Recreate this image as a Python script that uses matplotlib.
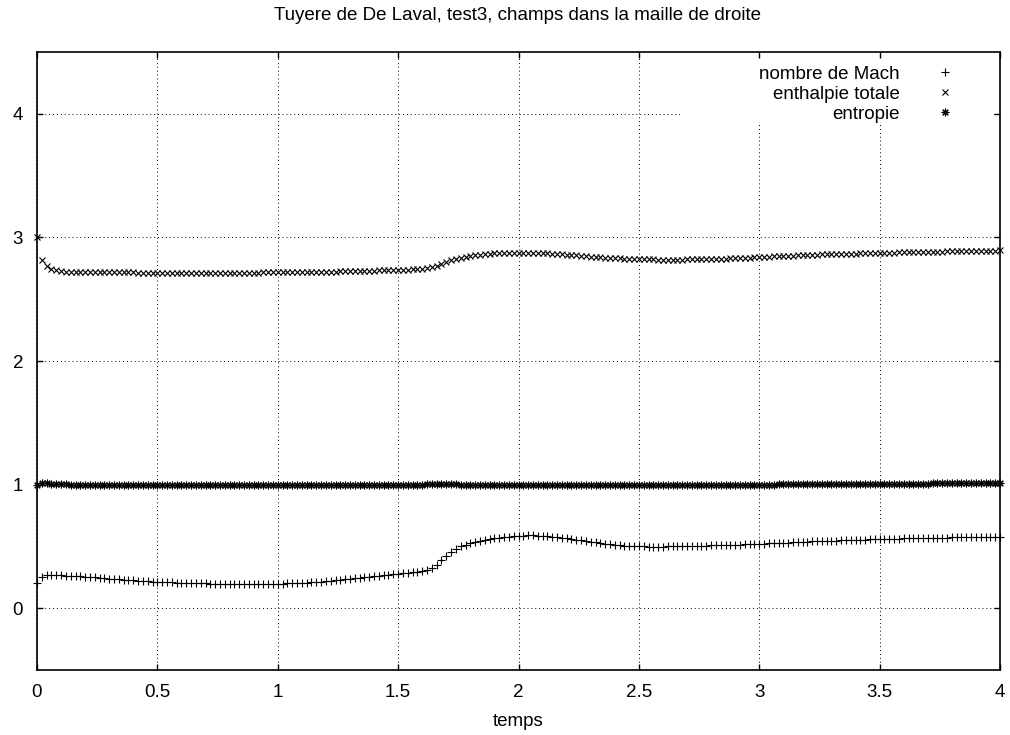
import numpy as np
import matplotlib
matplotlib.use("Agg")
import matplotlib.pyplot as plt
from matplotlib.patches import Rectangle

plt.rcParams["font.family"] = ["Liberation Sans", "DejaVu Sans"]

# time samples, dt = 0.02
temps = np.round(np.arange(201) * 0.02, 2)

mach = [
    0.200, 0.255, 0.265, 0.268, 0.268, 0.266, 0.264, 0.262, 0.260, 0.258,
    0.255, 0.252, 0.249, 0.246, 0.243, 0.240, 0.237, 0.234, 0.231, 0.228,
    0.225, 0.222, 0.220, 0.217, 0.215, 0.213, 0.211, 0.209, 0.208, 0.206,
    0.205, 0.204, 0.203, 0.202, 0.201, 0.200, 0.199, 0.199, 0.198, 0.198,
    0.197, 0.197, 0.196, 0.196, 0.196, 0.196, 0.196, 0.197, 0.197, 0.198,
    0.198, 0.199, 0.200, 0.202, 0.203, 0.205, 0.207, 0.210, 0.212, 0.215,
    0.219, 0.223, 0.227, 0.231, 0.235, 0.239, 0.243, 0.247, 0.251, 0.255,
    0.259, 0.263, 0.267, 0.271, 0.275, 0.279, 0.283, 0.287, 0.291, 0.296,
    0.302, 0.311, 0.326, 0.352, 0.388, 0.425, 0.456, 0.481, 0.500, 0.515,
    0.527, 0.537, 0.546, 0.553, 0.560, 0.566, 0.571, 0.576, 0.580, 0.583,
    0.586, 0.588, 0.589, 0.589, 0.588, 0.586, 0.583, 0.579, 0.575, 0.570,
    0.565, 0.560, 0.554, 0.548, 0.543, 0.537, 0.532, 0.527, 0.522, 0.518,
    0.514, 0.510, 0.507, 0.505, 0.503, 0.501, 0.500, 0.499, 0.499, 0.499,
    0.499, 0.500, 0.500, 0.501, 0.502, 0.503, 0.504, 0.505, 0.506, 0.507,
    0.508, 0.509, 0.510, 0.511, 0.513, 0.514, 0.515, 0.517, 0.518, 0.520,
    0.521, 0.523, 0.525, 0.526, 0.528, 0.530, 0.531, 0.533, 0.535, 0.536,
    0.538, 0.540, 0.541, 0.543, 0.544, 0.546, 0.547, 0.549, 0.550, 0.551,
    0.553, 0.554, 0.555, 0.556, 0.558, 0.559, 0.560, 0.561, 0.562, 0.563,
    0.564, 0.565, 0.566, 0.567, 0.568, 0.569, 0.570, 0.571, 0.571, 0.572,
    0.573, 0.574, 0.574, 0.575, 0.576, 0.576, 0.577, 0.577, 0.578, 0.578,
    0.579,
]

enthalpie = [
    3.000, 2.815, 2.770, 2.745, 2.733, 2.727, 2.724, 2.722, 2.721, 2.720,
    2.720, 2.719, 2.719, 2.718, 2.718, 2.718, 2.717, 2.717, 2.717, 2.717,
    2.717, 2.716, 2.716, 2.716, 2.716, 2.716, 2.716, 2.716, 2.716, 2.716,
    2.716, 2.716, 2.716, 2.716, 2.716, 2.716, 2.716, 2.716, 2.716, 2.716,
    2.716, 2.716, 2.716, 2.716, 2.716, 2.716, 2.716, 2.717, 2.717, 2.717,
    2.717, 2.718, 2.718, 2.719, 2.719, 2.720, 2.720, 2.721, 2.722, 2.722,
    2.723, 2.724, 2.724, 2.725, 2.726, 2.727, 2.728, 2.729, 2.730, 2.731,
    2.732, 2.733, 2.734, 2.735, 2.736, 2.737, 2.738, 2.740, 2.741, 2.743,
    2.746, 2.751, 2.759, 2.771, 2.786, 2.801, 2.815, 2.827, 2.837, 2.845,
    2.851, 2.856, 2.861, 2.864, 2.867, 2.870, 2.872, 2.874, 2.875, 2.876,
    2.877, 2.877, 2.876, 2.876, 2.875, 2.873, 2.871, 2.869, 2.866, 2.863,
    2.860, 2.857, 2.854, 2.851, 2.848, 2.845, 2.842, 2.839, 2.837, 2.834,
    2.832, 2.830, 2.828, 2.827, 2.825, 2.824, 2.823, 2.822, 2.822, 2.821,
    2.821, 2.821, 2.821, 2.821, 2.821, 2.822, 2.822, 2.823, 2.824, 2.825,
    2.826, 2.827, 2.828, 2.829, 2.831, 2.832, 2.834, 2.836, 2.837, 2.839,
    2.841, 2.843, 2.844, 2.846, 2.848, 2.850, 2.851, 2.853, 2.855, 2.856,
    2.858, 2.859, 2.861, 2.862, 2.863, 2.864, 2.865, 2.866, 2.867, 2.868,
    2.869, 2.870, 2.871, 2.872, 2.873, 2.874, 2.875, 2.876, 2.877, 2.878,
    2.879, 2.880, 2.880, 2.881, 2.882, 2.883, 2.884, 2.884, 2.885, 2.886,
    2.887, 2.888, 2.889, 2.889, 2.890, 2.891, 2.892, 2.893, 2.893, 2.894,
    2.895,
]

entropie = [
    1.000, 1.012, 1.010, 1.006, 1.004, 1.002, 1.001, 1.000, 1.000, 1.000,
    1.000, 1.000, 1.000, 1.000, 1.000, 1.000, 1.000, 1.000, 1.000, 1.000,
    1.000, 1.000, 1.000, 1.000, 1.000, 1.000, 1.000, 1.000, 1.000, 1.000,
    1.000, 1.000, 1.000, 1.000, 1.000, 1.000, 1.000, 1.000, 1.000, 1.000,
    1.000, 1.000, 1.000, 1.000, 1.000, 1.000, 1.000, 1.000, 1.000, 1.000,
    1.000, 1.000, 1.000, 1.000, 1.000, 1.000, 1.000, 1.000, 1.000, 1.000,
    1.000, 1.000, 1.000, 1.000, 1.000, 1.000, 1.000, 1.000, 1.000, 1.000,
    1.000, 1.000, 1.000, 1.000, 1.000, 1.000, 1.000, 1.000, 1.000, 1.000,
    1.000, 1.001, 1.001, 1.002, 1.002, 1.002, 1.001, 1.001, 1.000, 1.000,
    1.000, 1.000, 1.000, 1.000, 1.000, 1.000, 1.000, 1.000, 1.000, 1.000,
    1.000, 1.000, 1.000, 1.000, 1.000, 1.000, 1.000, 1.000, 1.000, 1.000,
    1.000, 1.000, 1.000, 1.000, 1.000, 1.000, 1.000, 1.000, 1.000, 1.000,
    1.000, 1.000, 1.000, 1.000, 1.000, 1.000, 1.000, 1.000, 1.000, 1.000,
    1.000, 1.000, 1.000, 1.000, 1.000, 1.000, 1.000, 1.000, 1.000, 1.000,
    1.000, 1.000, 1.000, 1.000, 1.000, 1.000, 1.000, 1.000, 1.000, 1.000,
    1.000, 1.000, 1.000, 1.000, 1.001, 1.001, 1.001, 1.001, 1.001, 1.001,
    1.002, 1.002, 1.002, 1.002, 1.002, 1.003, 1.003, 1.003, 1.003, 1.004,
    1.004, 1.004, 1.004, 1.005, 1.005, 1.005, 1.006, 1.006, 1.006, 1.006,
    1.007, 1.007, 1.007, 1.008, 1.008, 1.008, 1.009, 1.009, 1.009, 1.009,
    1.010, 1.010, 1.010, 1.010, 1.010, 1.011, 1.011, 1.011, 1.011, 1.011,
    1.011,
]

labels = ["nombre de Mach", "enthalpie totale", "entropie"]
xticks = [0, 0.5, 1, 1.5, 2, 2.5, 3, 3.5, 4]
xticklabels = ["0", "0.5", "1", "1.5", "2", "2.5", "3", "3.5", "4"]
yticks = [0, 1, 2, 3, 4]
yticklabels = ["0", "1", "2", "3", "4"]

FS = 13.5

fig = plt.figure(figsize=(10.1, 7.35), dpi=100)
ax = fig.add_axes([37 / 1010, 65 / 735, 963 / 1010, 618 / 735])

mk = dict(linestyle="none", color="black", markeredgewidth=0.8, zorder=3,
          clip_on=False)
ax.plot(temps, mach, marker="+", markersize=5.5, label=labels[0], **mk)
ax.plot(temps, enthalpie, marker="x", markersize=5, label=labels[1], **mk)
ax.plot(temps, entropie, marker=(8, 2, 0), markersize=5.5, label=labels[2], **mk)

ax.set_xlim(0, 4)
ax.set_ylim(-0.5, 4.5)
ax.set_xticks(xticks)
ax.set_xticklabels(xticklabels)
ax.set_yticks(yticks)
ax.set_yticklabels(yticklabels)
ax.tick_params(direction="in", length=4.5, width=1, top=True, right=True,
               labelsize=FS, pad=10)
for s in ax.spines.values():
    s.set_linewidth(1.2)

ax.set_axisbelow(True)
ax.grid(True, color="black", linestyle=(0, (1, 3)), linewidth=0.7)

# gnuplot clears the key area over the grid
ax.add_patch(Rectangle((0.6677, 0.8819), 0.325, 0.1068, transform=ax.transAxes,
                       facecolor="white", edgecolor="none", zorder=1))

leg = ax.legend(loc="upper right", bbox_to_anchor=(0.9527, 0.978),
                frameon=False, markerfirst=False, numpoints=1,
                handlelength=1, handletextpad=1.9, labelspacing=0.15,
                borderpad=0, borderaxespad=0, fontsize=FS)

ax.set_xlabel("temps", fontsize=FS, labelpad=9)
fig.text(518 / 1010, 1 - 15 / 735,
         "Tuyere de De Laval, test3, champs dans la maille de droite",
         ha="center", va="center", fontsize=FS)

fig.savefig("out.png", dpi=100)
